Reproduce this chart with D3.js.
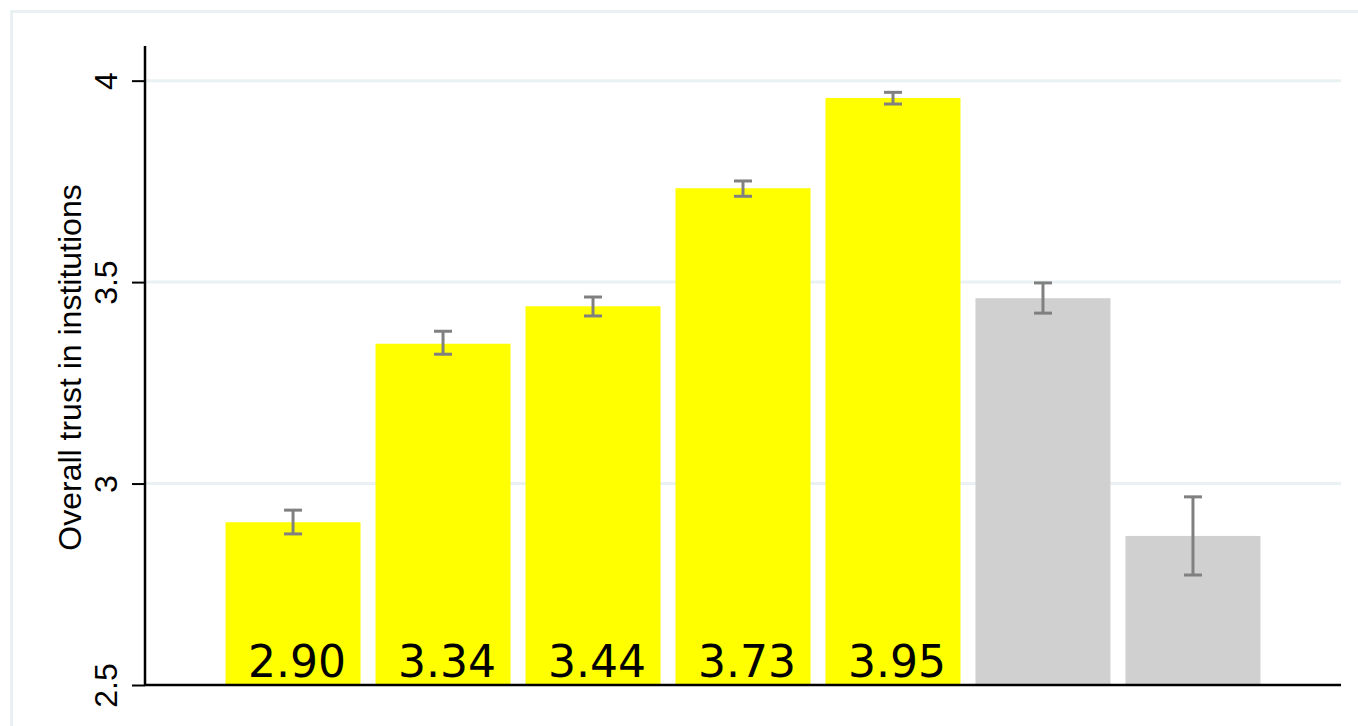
<!DOCTYPE html>
<html>
<head>
<meta charset="utf-8">
<script src="https://cdn.jsdelivr.net/npm/d3@7"></script>
<style>
  html, body { margin: 0; padding: 0; background: #fff; }
  svg { display: block; }
</style>
</head>
<body>
<svg id="chart" width="1358" height="726"></svg>
<script>
// ---- data ----
const categories = ["G1", "G2", "G3", "G4", "G5", "G6", "G7"];
const groups     = ["main", "main", "main", "main", "main", "other", "other"];
const means      = [2.904, 3.347, 3.440, 3.733, 3.957, 3.460, 2.870];
const ciLow      = [2.875, 3.321, 3.416, 3.713, 3.942, 3.423, 2.773];
const ciHigh     = [2.934, 3.378, 3.463, 3.751, 3.971, 3.498, 2.967];
const barLabels  = ["2.90", "3.34", "3.44", "3.73", "3.95", "", ""];
const yTicks     = [2.5, 3, 3.5, 4];
const yTitle     = "Overall trust in institutions";

const data = categories.map((c, i) => ({
  cat: c, group: groups[i], mean: means[i], lo: ciLow[i], hi: ciHigh[i], label: barLabels[i]
}));

const svg = d3.select("#chart");

// outer graph-region frame
svg.append("rect")
  .attr("x", 11.5).attr("y", 11.5)
  .attr("width", 1420).attr("height", 800)
  .attr("fill", "none").attr("stroke", "#eaf1f3").attr("stroke-width", 3);

const plot = { left: 145, right: 1341, top: 46, bottom: 685 };

const x = d3.scaleBand()
  .domain(categories)
  .range([plot.left, plot.right])
  .paddingInner(0.1)
  .paddingOuter(0.537);

const y = d3.scaleLinear()
  .domain([2.5, 4.086])
  .range([plot.bottom, plot.top]);

const color = d3.scaleOrdinal().domain(["main", "other"]).range(["#ffff00", "#d0d0d0"]);

// gridlines
svg.append("g")
  .selectAll("line")
  .data(yTicks.filter(t => t > 2.5))
  .join("line")
  .attr("x1", plot.left).attr("x2", plot.right)
  .attr("y1", d => y(d)).attr("y2", d => y(d))
  .attr("stroke", "#eaf1f3").attr("stroke-width", 3);

// bars
svg.append("g")
  .selectAll("rect")
  .data(data)
  .join("rect")
  .attr("x", d => x(d.cat))
  .attr("width", x.bandwidth())
  .attr("y", d => y(d.mean))
  .attr("height", d => y(2.5) - y(d.mean))
  .attr("fill", d => color(d.group));

// error bars
const eb = svg.append("g").attr("stroke", "#808080").attr("stroke-width", 3);
data.forEach(d => {
  const cx = x(d.cat) + x.bandwidth() / 2;
  eb.append("line").attr("x1", cx).attr("x2", cx).attr("y1", y(d.hi)).attr("y2", y(d.lo));
  eb.append("line").attr("x1", cx - 9).attr("x2", cx + 9).attr("y1", y(d.hi)).attr("y2", y(d.hi));
  eb.append("line").attr("x1", cx - 9).attr("x2", cx + 9).attr("y1", y(d.lo)).attr("y2", y(d.lo));
});

// bar labels
svg.append("g")
  .selectAll("text")
  .data(data.filter(d => d.label))
  .join("text")
  .attr("x", d => x(d.cat) + x.bandwidth() / 2 + 4)
  .attr("y", y(2.5) - 8)
  .attr("text-anchor", "middle")
  .attr("font-family", "DejaVu Sans")
  .attr("font-size", 44)
  .attr("fill", "#000")
  .text(d => d.label);

// y axis
const yAxis = d3.axisLeft(y).tickValues(yTicks).tickFormat(d3.format("")).tickSize(13).tickPadding(0);
const gy = svg.append("g").attr("transform", `translate(${plot.left},0)`).call(yAxis);
gy.select(".domain").attr("stroke", "#000").attr("stroke-width", 2.5)
  .attr("d", `M0,${plot.top}V${plot.bottom}`);
gy.selectAll(".tick line").attr("stroke", "#000").attr("stroke-width", 2);
gy.selectAll(".tick text")
  .attr("font-family", "Liberation Sans, Arial, sans-serif")
  .attr("font-size", 32)
  .attr("fill", "#000")
  .attr("text-anchor", "middle")
  .attr("dy", null)
  .attr("x", null)
  .attr("transform", "translate(-28,0) rotate(-90)");

// x axis line
svg.append("line")
  .attr("x1", plot.left - 1).attr("x2", plot.right)
  .attr("y1", plot.bottom).attr("y2", plot.bottom)
  .attr("stroke", "#000").attr("stroke-width", 2.5);

// y title
svg.append("text")
  .attr("transform", `translate(81,${(plot.top + plot.bottom) / 2 + 2}) rotate(-90)`)
  .attr("text-anchor", "middle")
  .attr("font-family", "Liberation Sans, Arial, sans-serif")
  .attr("font-size", 32)
  .attr("fill", "#000")
  .text(yTitle);
</script>
</body>
</html>
